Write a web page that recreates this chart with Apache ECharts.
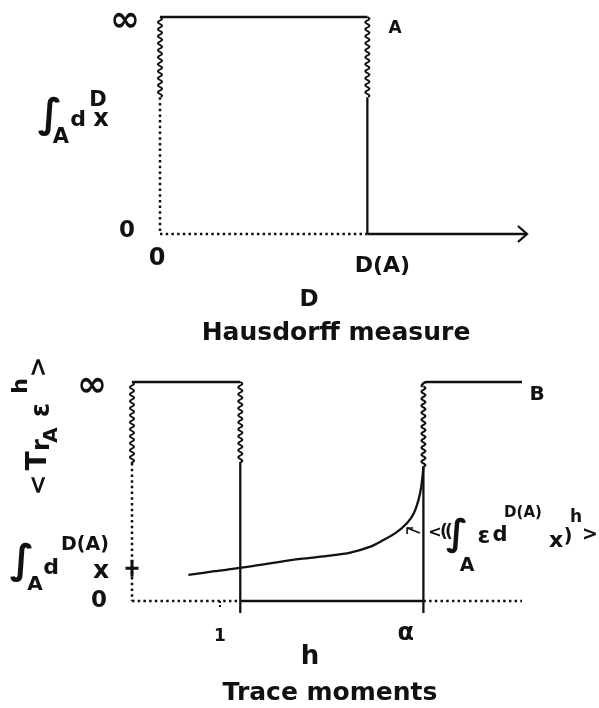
<!DOCTYPE html>
<html>
<head>
<meta charset="utf-8">
<script src="https://cdn.jsdelivr.net/npm/echarts@6/dist/echarts.min.js"></script>
<style>
html, body { margin: 0; padding: 0; background: #fff; }
#chart { width: 599px; height: 708px; }
</style>
</head>
<body>
<div id="chart"></div>
<script>
// y = 1 is drawn as "∞" on both panels
// segments are [x1, y1, x2, y2]

// Hausdorff measure panel
var dTicks = [0, 1];                 // D = 0 and D(A)
var dTickLabels = ['0', 'D(A)'];
var dMax = 1.77;                     // end of the arrowed D axis
var hausTop = [[0, 1, 1, 1]];
var hausWavy = [[0, 1, 0, 0.63], [1, 1, 1, 0.63]];
var hausDotted = [[0, 0.63, 0, 0], [0, 0, 1, 0]];
var hausSolid = [[1, 0.63, 1, 0]];
var hausArrow = [[1, 0, dMax, 0]];

// Trace moments panel
var hTicks = [1, 3.11];              // h = 1 and alpha
var hTickLabels = ['1', 'α'];
var hMax = 4.43;
var traceTopLeft = [[0, 1, 1.23, 1]];
var traceTopRight = [[3.31, 1, hMax, 1]];
var traceWavy = [[0, 1, 0, 0.63], [1.23, 1, 1.23, 0.63], [3.31, 0.98, 3.31, 0.61]];
var traceDotted = [[0, 0.63, 0, 0], [0, 0, 1.23, 0], [3.31, 0, hMax, 0]];
var traceSolid = [[1.23, 0.63, 1.23, -0.055], [1.23, 0, 3.31, 0], [3.31, 0.61, 3.31, -0.055]];
var traceCurve = [[0.64, 0.119], [0.94, 0.136], [1.23, 0.151], [1.57, 0.172], [1.91, 0.192],
                  [2.25, 0.207], [2.48, 0.221], [2.7, 0.247], [2.85, 0.277], [3.0, 0.312],
                  [3.125, 0.356], [3.2, 0.4], [3.25, 0.455], [3.285, 0.52], [3.31, 0.61]];
var intLevel = 0.15;                 // level of the integral of d^D(A)
var noteArrow = [[3.27, 0.31, 3.125, 0.333]];

var INK = '#111';
var FONT = '"DejaVu Sans"';
var LW = 2.3;

var chart = echarts.init(document.getElementById('chart'));

function segments(kind) {
    return function (params, api) {
        var p1 = api.coord([api.value(0), api.value(1)]);
        var p2 = api.coord([api.value(2), api.value(3)]);
        var style = { stroke: INK, lineWidth: LW, fill: null };
        if (kind === 'dotted') {
            style.lineDash = [2.5, 3.2];
            style.lineWidth = 2.5;
        }
        if (kind === 'wavy') {
            var pts = [], len = Math.abs(p2[1] - p1[1]), dir = p2[1] > p1[1] ? 1 : -1;
            for (var t = 0; t <= len; t += 0.5) {
                pts.push([p1[0] + 2 * Math.sin(t / 7 * 2 * Math.PI), p1[1] + dir * t]);
            }
            style.lineWidth = 2;
            return { type: 'polyline', shape: { points: pts }, style: style };
        }
        if (kind === 'arrow') {
            return { type: 'group', children: [
                { type: 'line', shape: { x1: p1[0], y1: p1[1], x2: p2[0], y2: p2[1] }, style: style },
                { type: 'polyline', shape: { points: [[p2[0] - 9, p2[1] - 8], p2, [p2[0] - 9, p2[1] + 8]] }, style: style }
            ]};
        }
        if (kind === 'note') {
            style.lineWidth = 1.6;
            return { type: 'group', children: [
                { type: 'line', shape: { x1: p1[0], y1: p1[1], x2: p2[0], y2: p2[1] }, style: style },
                { type: 'polyline', shape: { points: [[p2[0] + 6, p2[1]], p2, [p2[0], p2[1] + 6]] }, style: style }
            ]};
        }
        if (kind === 'corner') {
            // top line of B that bends down into the wavy edge
            return { type: 'path', shape: { pathData: 'M' + (p1[0] - 2) + ',' + (p1[1] + 5) +
                ' Q' + (p1[0] - 1) + ',' + p1[1] + ' ' + (p1[0] + 4) + ',' + p1[1] +
                ' L' + p2[0] + ',' + p2[1] }, style: style };
        }
        return { type: 'line', shape: { x1: p1[0], y1: p1[1], x2: p2[0], y2: p2[1] }, style: style };
    };
}

function seg(data, kind, idx) {
    return { type: 'custom', xAxisIndex: idx, yAxisIndex: idx, data: data,
             renderItem: segments(kind), silent: true, clip: false };
}

function t(x, y, s, size) {
    return { type: 'text', x: x, y: y, silent: true,
        style: { text: s, fontFamily: FONT, fontWeight: 'bold', fontSize: size, fill: INK,
                 align: 'center', verticalAlign: 'middle' } };
}

var bold = { fontWeight: 'bold', color: INK, fontFamily: FONT };

var option = {
    backgroundColor: '#fff',
    animation: false,
    textStyle: { fontFamily: FONT, color: INK },
    grid: [
        { left: 160, top: 17, width: 367, height: 217 },
        { left: 132, top: 382, width: 390, height: 219 }
    ],
    xAxis: [
        {
            type: 'value', gridIndex: 0, min: 0, max: dMax,
            axisLine: { show: false }, splitLine: { show: false }, axisTick: { show: false },
            axisLabel: {
                customValues: dTicks, margin: 13,
                formatter: function (v) {
                    var i = dTicks.indexOf(v);
                    return i === 1 ? '{da|' + dTickLabels[i] + '}' : '{n|' + dTickLabels[i] + '}';
                },
                rich: {
                    n: Object.assign({ fontSize: 24, padding: [0, 6, 0, 0] }, bold),
                    da: Object.assign({ fontSize: 22, padding: [8, 0, 0, 30] }, bold)
                }
            }
        },
        {
            type: 'value', gridIndex: 1, min: 0, max: hMax,
            axisLine: { show: false }, splitLine: { show: false },
            axisTick: { show: true, customValues: [hTicks[0]], length: 8, inside: false,
                        lineStyle: { color: INK, width: 2, type: [2, 2] } },
            axisLabel: {
                customValues: hTicks, margin: 21,
                formatter: function (v) {
                    var i = hTicks.indexOf(v);
                    return i === 1 ? '{a|' + hTickLabels[i] + '}' : '{one|' + hTickLabels[i] + '}';
                },
                rich: {
                    one: Object.assign({ fontSize: 17, padding: [6, 0, 0, 0] }, bold),
                    a: Object.assign({ fontSize: 24 }, bold)
                }
            }
        }
    ],
    yAxis: [
        {
            type: 'value', gridIndex: 0, min: 0, max: 1,
            axisLine: { show: false }, splitLine: { show: false }, axisTick: { show: false },
            axisLabel: {
                customValues: [0, 1], margin: 20,
                formatter: function (v) { return v === 1 ? '{inf|∞}' : '{n|0}'; },
                rich: {
                    inf: Object.assign({ fontSize: 36, padding: [10, 0, 0, 0] }, bold),
                    n: Object.assign({ fontSize: 23, padding: [0, 5, 6, 0] }, bold)
                }
            }
        },
        {
            type: 'value', gridIndex: 1, min: 0, max: 1,
            axisLine: { show: false }, splitLine: { show: false }, axisTick: { show: false },
            axisLabel: {
                customValues: [0, 1], margin: 25,
                formatter: function (v) { return v === 1 ? '{inf|∞}' : '{n|0}'; },
                rich: {
                    inf: Object.assign({ fontSize: 36, padding: [10, 0, 0, 0] }, bold),
                    n: Object.assign({ fontSize: 23 }, bold)
                }
            }
        }
    ],
    series: [
        seg(hausTop, 'solid', 0),
        seg(hausSolid, 'solid', 0),
        seg(hausWavy, 'wavy', 0),
        seg(hausDotted, 'dotted', 0),
        seg(hausArrow, 'arrow', 0),
        seg(traceTopLeft, 'solid', 1),
        seg(traceTopRight, 'corner', 1),
        seg(traceSolid, 'solid', 1),
        seg(traceWavy, 'wavy', 1),
        seg(traceDotted, 'dotted', 1),
        seg(noteArrow, 'note', 1),
        {
            type: 'line', xAxisIndex: 1, yAxisIndex: 1, data: traceCurve,
            smooth: 0.3, showSymbol: false, clip: false, silent: true,
            lineStyle: { color: INK, width: LW }
        },
        {
            type: 'scatter', xAxisIndex: 1, yAxisIndex: 1, data: [[0, intLevel]],
            symbol: 'path://M0,7L13,7L13,10L0,10Z M5,0L8,0L8,17L5,17Z',
            symbolSize: [13, 17], itemStyle: { color: INK, opacity: 1 }, silent: true
        }
    ],
    graphic: [
        // top panel: y name
        t(50, 117, '∫', 40),
        t(61, 138, 'A', 21),
        t(78, 120, 'd', 22),
        t(98, 101, 'D', 21),
        t(101, 120, 'x', 24),
        t(395, 29, 'A', 17),
        t(309, 300, 'D', 23),
        t(336, 333, 'Hausdorff measure', 25),
        // bottom panel: rotated y name
        {
            type: 'group', x: 50, y: 493, rotation: Math.PI / 2, silent: true,
            children: [
                t(8, -11, '<', 25),
                t(32, -11, 'T', 28),
                t(48, -7, 'r', 24),
                t(58, 2, 'A', 20),
                t(83, -8, 'ε', 26),
                t(107, -29, 'h', 22),
                t(126, -11, '>', 25)
            ]
        },
        // integral level label
        t(22, 563, '∫', 40),
        t(35, 585, 'A', 20),
        t(51, 568, 'd', 22),
        t(85, 545, 'D(A)', 19),
        t(101, 571, 'x', 25),
        t(537, 395, 'B', 20),
        // curve annotation
        t(435, 533, '<', 16),
        t(444, 533, '(', 17),
        t(449, 533, '(', 17),
        t(457, 536, '∫', 36),
        t(467, 566, 'A', 19),
        t(484, 537, 'ε', 23),
        t(500, 536, 'd', 21),
        t(523, 513, 'D(A)', 15),
        t(556, 541, 'x', 22),
        t(568, 537, ')', 19),
        t(576, 518, 'h', 17),
        t(590, 535, '>', 19),
        t(310, 657, 'h', 26),
        t(330, 693, 'Trace moments', 25)
    ]
};

chart.setOption(option);
</script>
</body>
</html>
